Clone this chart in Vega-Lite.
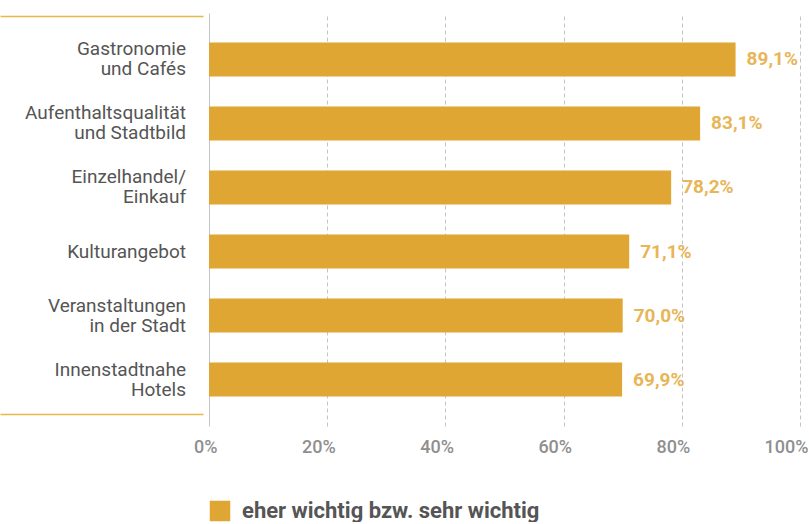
{
  "$schema": "https://vega.github.io/schema/vega-lite/v6.json",
  "padding": {"top": 13, "left": 0, "right": 0, "bottom": 0},
  "background": "white",
  "bounds": "flush",
  "config": {
    "font": "Roboto",
    "view": {"stroke": null},
    "locale": {"number": {"decimal": ",", "thousands": ".", "grouping": [3], "currency": ["", " €"]}},
    "concat": {"spacing": 6}
  },
  "data": {
    "values": [
      {"category": "Gastronomie\nund Cafés", "value": 0.891},
      {"category": "Aufenthaltsqualität\nund Stadtbild", "value": 0.831},
      {"category": "Einzelhandel/\nEinkauf", "value": 0.782},
      {"category": "Kulturangebot", "value": 0.711},
      {"category": "Veranstaltungen\nin der Stadt", "value": 0.700},
      {"category": "Innenstadtnahe\nHotels", "value": 0.699}
    ]
  },
  "hconcat": [
    {
      "width": 203,
      "height": 413,
      "layer": [
        {
          "transform": [{"filter": "indexof(datum.category, '\\n') >= 0"}],
          "mark": {"type": "text", "align": "right", "baseline": "middle", "dx": -17, "dy": -10, "fontSize": 19, "color": "#555555", "lineBreak": "\n", "lineHeight": 20},
          "encoding": {
            "y": {"field": "category", "type": "nominal", "sort": null, "axis": null, "scale": {"type": "band", "paddingInner": 0.47, "paddingOuter": 0.46, "domain": ["Gastronomie\nund Cafés", "Aufenthaltsqualität\nund Stadtbild", "Einzelhandel/\nEinkauf", "Kulturangebot", "Veranstaltungen\nin der Stadt", "Innenstadtnahe\nHotels"]}},
            "x": {"datum": 1, "type": "quantitative", "scale": {"domain": [0, 1], "nice": false}, "axis": {"orient": "top", "offset": -3, "labels": false, "ticks": false, "grid": false, "title": null, "domainColor": "#E8B84A", "domainWidth": 1.5}},
            "text": {"field": "category"}
          }
        },
        {
          "transform": [{"filter": "indexof(datum.category, '\\n') < 0"}],
          "mark": {"type": "text", "align": "right", "baseline": "middle", "dx": -17, "fontSize": 19, "color": "#555555", "lineBreak": "\n", "lineHeight": 20},
          "encoding": {
            "y": {"field": "category", "type": "nominal", "sort": null, "axis": null, "scale": {"type": "band", "paddingInner": 0.47, "paddingOuter": 0.46, "domain": ["Gastronomie\nund Cafés", "Aufenthaltsqualität\nund Stadtbild", "Einzelhandel/\nEinkauf", "Kulturangebot", "Veranstaltungen\nin der Stadt", "Innenstadtnahe\nHotels"]}},
            "x": {"datum": 1, "type": "quantitative", "scale": {"domain": [0, 1], "nice": false}, "axis": {"orient": "bottom", "offset": -12, "labels": false, "ticks": false, "grid": false, "title": null, "domainColor": "#E8B84A", "domainWidth": 1.5}},
            "text": {"field": "category"}
          }
        }
      ],
      "resolve": {"scale": {"x": "independent"}, "axis": {"x": "independent"}}
    },
    {
      "width": 591,
      "height": 413,
      "layer": [
        {
          "mark": {"type": "bar"},
          "encoding": {
            "y": {"field": "category", "type": "nominal", "sort": null, "axis": null, "scale": {"type": "band", "paddingInner": 0.47, "paddingOuter": 0.46}},
            "x": {"field": "value", "type": "quantitative", "scale": {"domain": [0, 1], "nice": false},
              "axis": {"format": ".0%", "values": [0, 0.2, 0.4, 0.6, 0.8, 1], "title": null, "domain": false, "ticks": false, "labelPadding": 12, "labelFontSize": 18, "labelColor": "#8f8f8f", "labelFontWeight": 500, "labelAlign": "right", "labelOffset": 8, "labelBound": false, "labelOverlap": false,
                "grid": true, "gridColor": "#c4c4c4", "gridWidth": 1,
                "gridDash": {"condition": {"test": "datum.value === 0", "value": []}, "value": [4, 3]}}},
            "color": {"datum": "eher wichtig bzw. sehr wichtig", "type": "nominal", "scale": {"range": ["#E0A633"]},
              "legend": {"title": null, "orient": "none", "legendX": 209, "legendY": 487, "symbolType": "square", "symbolSize": 420, "symbolStrokeWidth": 0, "symbolOpacity": 1, "labelFontSize": 22, "labelFontWeight": "bold", "labelColor": "#555555", "labelOffset": 11, "labelLimit": 600}}
          }
        },
        {
          "mark": {"type": "text", "align": "left", "baseline": "middle", "dx": 11, "fontSize": 19, "fontWeight": "bold", "color": "#E8B557"},
          "encoding": {
            "y": {"field": "category", "type": "nominal", "sort": null, "axis": null},
            "x": {"field": "value", "type": "quantitative"},
            "text": {"field": "value", "type": "quantitative", "format": ".1%"}
          }
        }
      ]
    }
  ]
}
